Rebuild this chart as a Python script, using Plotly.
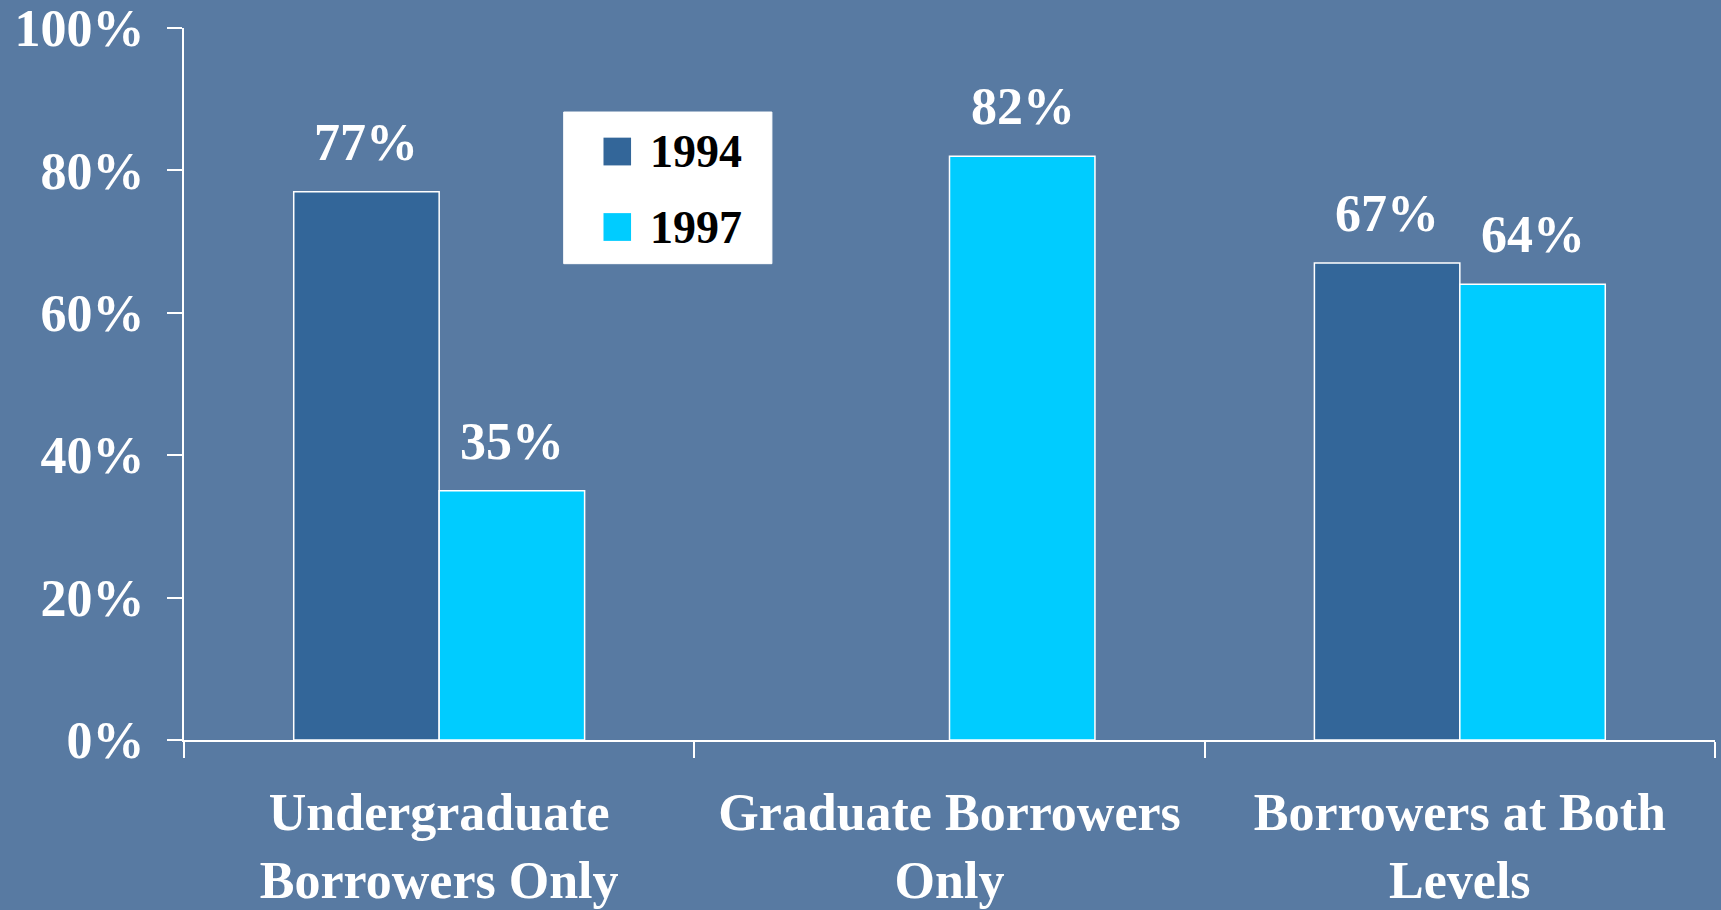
import plotly.graph_objects as go

categories = ["Undergraduate<br>Borrowers Only", "Graduate Borrowers<br>Only", "Borrowers at Both<br>Levels"]
series_names = ["1994", "1997"]
values_1994 = [77, None, 67]
values_1997 = [35, 82, 64]
y_ticks = [0, 20, 40, 60, 80, 100]
y_tick_labels = [f"{v}%" for v in y_ticks]

color_1994 = "#336699"
color_1997 = "#00CCFF"
bg = "#587AA2"
FONT = "Liberation Serif"

fig = go.Figure()
series = [(series_names[0], values_1994, color_1994, -73), (series_names[1], values_1997, color_1997, 73)]
for name, vals, col, shift in series:
    fig.add_trace(go.Bar(
        x=categories, y=vals, name=name,
        marker=dict(color=col, line=dict(color="white", width=1.5)),
        showlegend=False, hoverinfo="x+y",
    ))
    for cat, v in zip(categories, vals):
        if v is None:
            continue
        fig.add_annotation(x=cat, y=v, text=f"{v}%", showarrow=False,
                           xshift=shift, yshift=19, yanchor="bottom", xanchor="center",
                           font=dict(family=FONT, size=52, color="white", weight="bold"))

fig.update_layout(
    width=1721, height=910,
    margin=dict(l=184, r=6, t=28, b=170),
    paper_bgcolor=bg, plot_bgcolor=bg,
    barmode="group", bargap=0.43, bargroupgap=0,
    font=dict(family=FONT, color="white", size=52, weight="bold"),
)
fig.update_yaxes(
    range=[0, 100], tickvals=y_ticks, ticktext=y_tick_labels, automargin=False,
    showgrid=False, zeroline=False,
    showline=True, linecolor="white", linewidth=2,
    ticks="outside", ticklen=15, tickwidth=2, tickcolor="white",
    tickfont=dict(family=FONT, size=52, color="white", weight="bold"),
    ticklabelstandoff=12,
)
fig.update_xaxes(
    showgrid=False, showline=True, linecolor="white", linewidth=2, automargin=False,
    ticks="outside", tickson="boundaries", ticklen=16, tickwidth=2, tickcolor="white",
    tickfont=dict(family=FONT, size=52, color="white", weight="bold"),
    ticklabelstandoff=26,
)

# legend box drawn manually
fig.add_shape(type="rect", xref="paper", yref="paper", x0=0.248, x1=0.384, y0=0.669, y1=0.882,
              fillcolor="white", line=dict(color="white", width=1), layer="above")
legend_rows = [(series_names[0], color_1994, 0.8265), (series_names[1], color_1997, 0.7205)]
for name, col, yc in legend_rows:
    fig.add_shape(type="rect", xref="paper", yref="paper", x0=0.274, x1=0.292, y0=yc - 0.0195, y1=yc + 0.0195,
                  fillcolor=col, line=dict(width=0), layer="above")
    fig.add_annotation(xref="paper", yref="paper", x=0.303, y=yc, text=name, showarrow=False,
                       xanchor="left", yanchor="middle",
                       font=dict(family=FONT, size=46, color="black", weight="bold"))

fig.write_html(
    "out.html",
    config={"displayModeBar": False},
    post_script="document.body.style.margin='0';document.body.style.padding='0';"
                "document.body.style.overflow='hidden';document.body.style.background='" + bg + "';",
)
